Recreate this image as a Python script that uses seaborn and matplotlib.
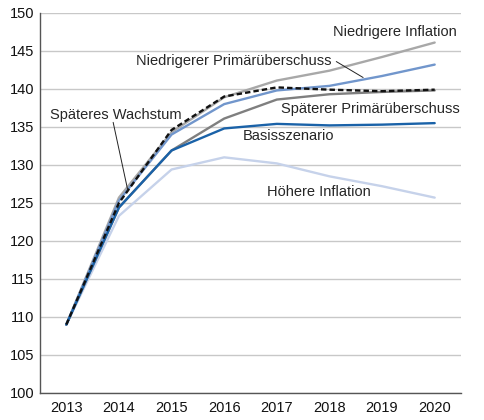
import pandas as pd
import matplotlib.pyplot as plt
import seaborn as sns
from matplotlib.ticker import FixedLocator

years = [2013, 2014, 2015, 2016, 2017, 2018, 2019, 2020]

hoehere_inflation = [109, 123.3, 129.4, 131.0, 130.2, 128.5, 127.2, 125.7]
niedrigere_inflation = [109, 125.7, 134.3, 138.9, 141.1, 142.4, 144.2, 146.1]
spaeterer_primaer = [109, 124.4, 131.9, 136.1, 138.6, 139.3, 139.6, 139.8]
niedrigerer_primaer = [109, 125.3, 134.0, 138.0, 139.8, 140.4, 141.7, 143.2]
basis = [109, 124.4, 131.9, 134.8, 135.4, 135.2, 135.3, 135.5]
spaeteres_wachstum = [109, 125.0, 134.6, 139.0, 140.2, 139.9, 139.7, 139.9]

series = {
    "Höhere Inflation": hoehere_inflation,
    "Niedrigere Inflation": niedrigere_inflation,
    "Späterer Primärüberschuss": spaeterer_primaer,
    "Niedrigerer Primärüberschuss": niedrigerer_primaer,
    "Basisszenario": basis,
    "Späteres Wachstum": spaeteres_wachstum,
}
colors = {
    "Höhere Inflation": "#c6d2ea",
    "Niedrigere Inflation": "#a8a8a8",
    "Späterer Primärüberschuss": "#7f7f7f",
    "Niedrigerer Primärüberschuss": "#7196cc",
    "Basisszenario": "#1a62a8",
    "Späteres Wachstum": "#111111",
}
dashes = {k: "" for k in series}
dashes["Späteres Wachstum"] = (2.3, 1.3)

rows = []
for name, vals in series.items():
    for y, v in zip(years, vals):
        rows.append({"Jahr": y, "Wert": v, "Szenario": name})
df = pd.DataFrame(rows)

sns.set_style("white")
plt.rcParams['font.family'] = ['Liberation Sans', 'DejaVu Sans']

fig = plt.figure(figsize=(4.85, 4.2), dpi=100)
ax = fig.add_axes([0.0825, 0.0643, 0.868, 0.905])

sns.lineplot(data=df, x="Jahr", y="Wert", hue="Szenario", style="Szenario",
             palette=colors, dashes=dashes, hue_order=list(series),
             style_order=list(series), linewidth=1.7, legend=False, ax=ax)

ax.set_xlim(2012.5, 2020.5)
ax.set_ylim(100, 150)
ax.set_yticks(range(100, 151, 5))
ax.set_xticks(years)
ax.set_xticklabels([str(y) for y in years])
ax.xaxis.set_minor_locator(FixedLocator([y + 0.5 for y in range(2012, 2021)]))
ax.tick_params(axis='x', which='major', length=0, labelsize=10.5, pad=6, colors='#111111')
ax.tick_params(axis='x', which='minor', length=5, color='#888888', width=1)
ax.tick_params(axis='y', length=0, labelsize=10.5, pad=4, colors='#111111')
ax.yaxis.grid(True, color='#c8c8c8', linewidth=1)
ax.set_axisbelow(True)
ax.set_xlabel("")
ax.set_ylabel("")
for s in ['top', 'right']:
    ax.spines[s].set_visible(False)
for s in ['left', 'bottom']:
    ax.spines[s].set_color('#555555')
    ax.spines[s].set_linewidth(1)

fs = 10.5
ax.text(2020.42, 147.5, "Niedrigere Inflation", ha='right', va='center', fontsize=fs)
ax.text(2014.32, 143.7, "Niedrigerer Primärüberschuss", ha='left', va='center', fontsize=fs)
ax.plot([2018.13, 2018.64], [143.6, 141.5], color='#222222', linewidth=0.7)
ax.text(2020.47, 137.3, "Späterer Primärüberschuss", ha='right', va='center', fontsize=fs)
ax.text(2016.36, 133.8, "Basisszenario", ha='left', va='center', fontsize=fs)
ax.text(2016.81, 126.4, "Höhere Inflation", ha='left', va='center', fontsize=fs)
ax.text(2012.695, 136.6, "Späteres Wachstum", ha='left', va='center', fontsize=fs)
ax.plot([2013.89, 2014.17], [135.6, 126.6], color='#222222', linewidth=0.7)

fig.savefig("out.png", dpi=100)
